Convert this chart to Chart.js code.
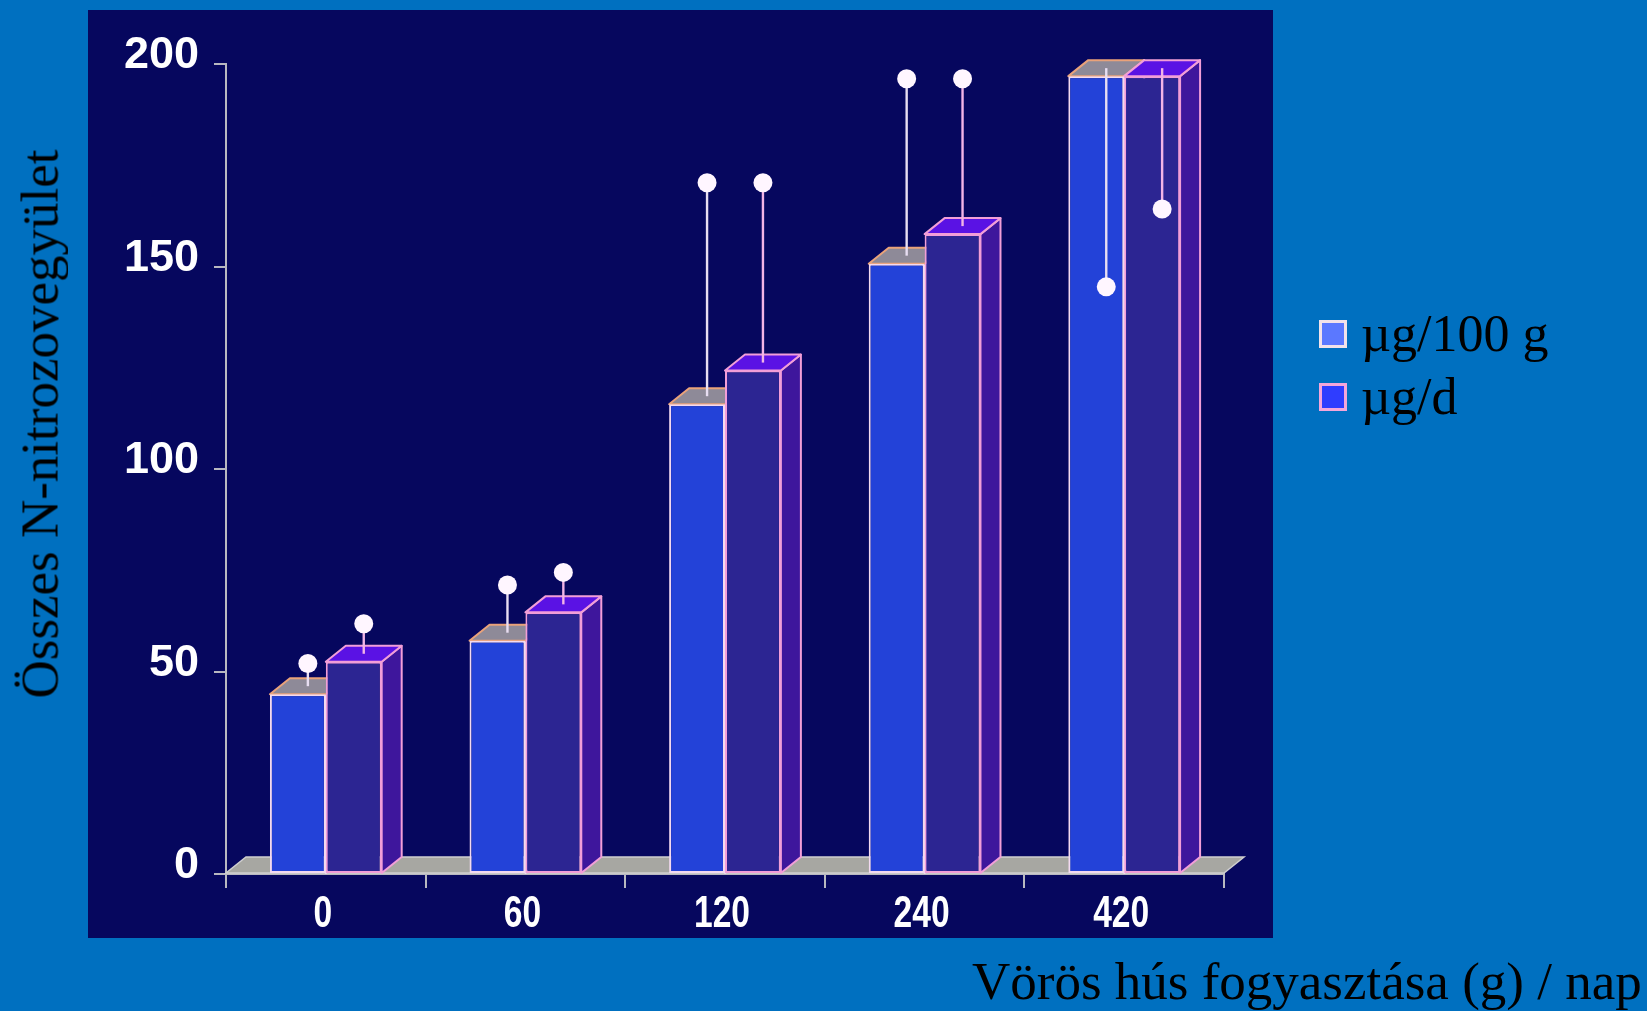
<!DOCTYPE html>
<html>
<head>
<meta charset="utf-8">
<script src="https://cdn.jsdelivr.net/npm/chart.js@4/dist/chart.umd.min.js"></script>
<style>
  html, body { margin: 0; padding: 0; background: #0070C0; overflow: hidden; }
  #wrap { position: relative; width: 1647px; height: 1011px; }
  #chart { position: absolute; left: 0; top: 0; }
  .serif { font-family: "Liberation Serif", "Times New Roman", serif; color: #000; position: absolute; white-space: nowrap; line-height: 1; }
  #ytitle { font-size: 53px; left: 40px; top: 424px; transform: translate(-50%, -50%) rotate(-90deg); }
  #xtitle { font-size: 53px; left: 972px; top: 955px; }
  .leg { position: absolute; display: flex; align-items: center; }
  .leg .box { width: 22px; height: 22px; border: 3px solid; box-sizing: content-box; margin-right: 14px; }
  .leg span { font-family: "Liberation Serif", "Times New Roman", serif; font-size: 52px; color: #000; line-height: 1; }
</style>
</head>
<body>
<div id="wrap">
  <canvas id="chart" width="1647" height="1011"></canvas>
  <div id="ytitle" class="serif">Összes N-nitrozovegyület</div>
  <div id="xtitle" class="serif">Vörös hús fogyasztása (g) / nap</div>
  <div class="leg" style="left:1319px; top:308px;"><div class="box" style="background:#5B78FF; border-color:#F2E2EA;"></div><span id="lab0"></span></div>
  <div class="leg" style="left:1319px; top:371px;"><div class="box" style="background:#2F3DFF; border-color:#F4A6DA;"></div><span id="lab1"></span></div>
</div>
<script>
// Red meat intake per day (g) on the category axis
const categories = ['0', '60', '120', '240', '420'];
const seriesLabels = ['µg/100 g', 'µg/d'];
// Total N-nitroso compounds
const per100g = [44.4, 57.6, 116, 150.7, 197];
const perDay = [52.4, 64.6, 124.3, 158, 197];
// Where each error whisker ends (the 420 g whiskers point downwards)
const per100gErrEnd = [50, 69.4, 168.7, 194.4, 143];
const perDayErrEnd = [59.8, 72.5, 168.7, 194.4, 162.2];
const yTicks = [0, 50, 100, 150, 200];

document.getElementById('lab0').textContent = seriesLabels[0];
document.getElementById('lab1').textContent = seriesLabels[1];

// 3D depth of the bars and the floor
const DX = 20, DY = 16;

const styles = [
  { front: '#2342D8', top: '#8E8A98', side: '#1B2BA8', edge: '#F3DAF0', topEdge: '#E9A27A', whisker: '#E8DEF2' },
  { front: '#2C2592', top: '#5A12E4', side: '#3E169C', edge: '#F29ED8', topEdge: '#F29ED8', whisker: '#F2B4E6' }
];

function barBox(bar) {
  const p = bar.getProps(['x', 'y', 'base', 'width'], true);
  return { x0: p.x - p.width / 2, x1: p.x + p.width / 2, yt: p.y, yb: p.base, cx: p.x };
}

const panelPlugin = {
  id: 'panel',
  beforeDraw(chart) {
    const ctx = chart.ctx;
    ctx.save();
    ctx.fillStyle = '#06075E';
    ctx.fillRect(88, 10, 1185, 928);
    ctx.restore();
  },
  beforeDatasetsDraw(chart) {
    const ctx = chart.ctx, a = chart.chartArea;
    const y0 = chart.scales.y.getPixelForValue(0);
    ctx.save();
    // floor slab under the bars
    ctx.beginPath();
    ctx.moveTo(a.left, y0 - 1);
    ctx.lineTo(a.right, y0 - 1);
    ctx.lineTo(a.right + DX, y0 - 1 - DY);
    ctx.lineTo(a.left + DX, y0 - 1 - DY);
    ctx.closePath();
    ctx.fillStyle = '#A7A7A2';
    ctx.fill();
    ctx.strokeStyle = '#CFCFCF';
    ctx.lineWidth = 1.5;
    ctx.stroke();

    // side and top faces of every box, back series first, so the
    // front faces drawn by the bar elements cover what is hidden
    ctx.lineWidth = 2;
    ctx.lineJoin = 'round';
    [0, 1].forEach(i => {
      const st = styles[i];
      chart.getDatasetMeta(i).data.forEach(bar => {
        const b = barBox(bar);
        ctx.beginPath();
        ctx.moveTo(b.x1, b.yt); ctx.lineTo(b.x1 + DX, b.yt - DY); ctx.lineTo(b.x1 + DX, b.yb - DY); ctx.lineTo(b.x1, b.yb);
        ctx.closePath();
        ctx.fillStyle = st.side; ctx.fill();
        ctx.strokeStyle = st.edge; ctx.stroke();
        ctx.beginPath();
        ctx.moveTo(b.x0, b.yt); ctx.lineTo(b.x1, b.yt); ctx.lineTo(b.x1 + DX, b.yt - DY); ctx.lineTo(b.x0 + DX, b.yt - DY);
        ctx.closePath();
        ctx.fillStyle = st.top; ctx.fill();
        ctx.strokeStyle = st.topEdge; ctx.stroke();
      });
    });
    ctx.restore();
  }
};

const overlayPlugin = {
  id: 'overlay',
  afterDatasetsDraw(chart) {
    const ctx = chart.ctx, y = chart.scales.y;
    const ends = [per100gErrEnd, perDayErrEnd];
    ctx.save();
    // error whiskers with round caps
    [0, 1].forEach(i => {
      chart.getDatasetMeta(i).data.forEach((bar, j) => {
        const b = barBox(bar);
        const cx = b.cx + DX / 2;
        const ys = b.yt - DY / 2;
        const ye = y.getPixelForValue(ends[i][j]) - DY / 2;
        ctx.beginPath();
        ctx.moveTo(cx, ys); ctx.lineTo(cx, ye);
        ctx.strokeStyle = styles[i].whisker; ctx.lineWidth = 2.4; ctx.stroke();
        ctx.beginPath();
        ctx.arc(cx, ye, 9.5, 0, Math.PI * 2);
        ctx.fillStyle = '#FFF6FF'; ctx.fill();
      });
    });
    ctx.restore();
  },
  afterDraw(chart) {
    // condensed category labels under the x axis
    const ctx = chart.ctx, x = chart.scales.x;
    ctx.save();
    ctx.font = 'bold 42px "Liberation Sans", Arial, sans-serif';
    ctx.fillStyle = '#FFFFFF';
    ctx.textAlign = 'center';
    ctx.textBaseline = 'middle';
    chart.data.labels.forEach((lab, i) => {
      const px = x.getPixelForTick(i);
      ctx.save();
      ctx.translate(px - 3, x.top + 41);
      ctx.scale(0.8, 1.05);
      ctx.fillText(lab, 0, 0);
      ctx.restore();
    });
    ctx.restore();
  }
};

new Chart(document.getElementById('chart'), {
  type: 'bar',
  data: {
    labels: categories,
    datasets: [
      { label: seriesLabels[0], data: per100g, backgroundColor: styles[0].front, borderColor: styles[0].edge, borderWidth: 2, borderSkipped: false },
      { label: seriesLabels[1], data: perDay, backgroundColor: styles[1].front, borderColor: styles[1].edge, borderWidth: 2, borderSkipped: false }
    ]
  },
  options: {
    responsive: false,
    animation: false,
    datasets: { bar: { barPercentage: 1, categoryPercentage: 0.56 } },
    layout: { padding: { left: 88, top: 64, right: 423, bottom: 73 } },
    plugins: { legend: { display: false }, tooltip: { enabled: false } },
    scales: {
      x: {
        grid: { display: true, drawOnChartArea: false, drawTicks: true, tickLength: 14, color: '#B8B8C0', lineWidth: 2, offset: true },
        border: { display: true, color: '#B8B8C0', width: 2 },
        ticks: { display: false },
        afterFit(s) { s.height = 64; }
      },
      y: {
        min: 0, max: 200,
        afterBuildTicks(s) { s.ticks = yTicks.map(v => ({ value: v })); },
        grid: { display: true, drawOnChartArea: false, drawTicks: true, tickLength: 12, color: '#B8B8C0', lineWidth: 2 },
        border: { display: true, color: '#B8B8C0', width: 2 },
        ticks: { color: '#FFFFFF', padding: 15, labelOffset: -8, font: { family: '"Liberation Sans", Arial', weight: 'bold', size: 45 } },
        afterFit(s) { s.width = 138; }
      }
    }
  },
  plugins: [panelPlugin, overlayPlugin]
});
</script>
</body>
</html>
